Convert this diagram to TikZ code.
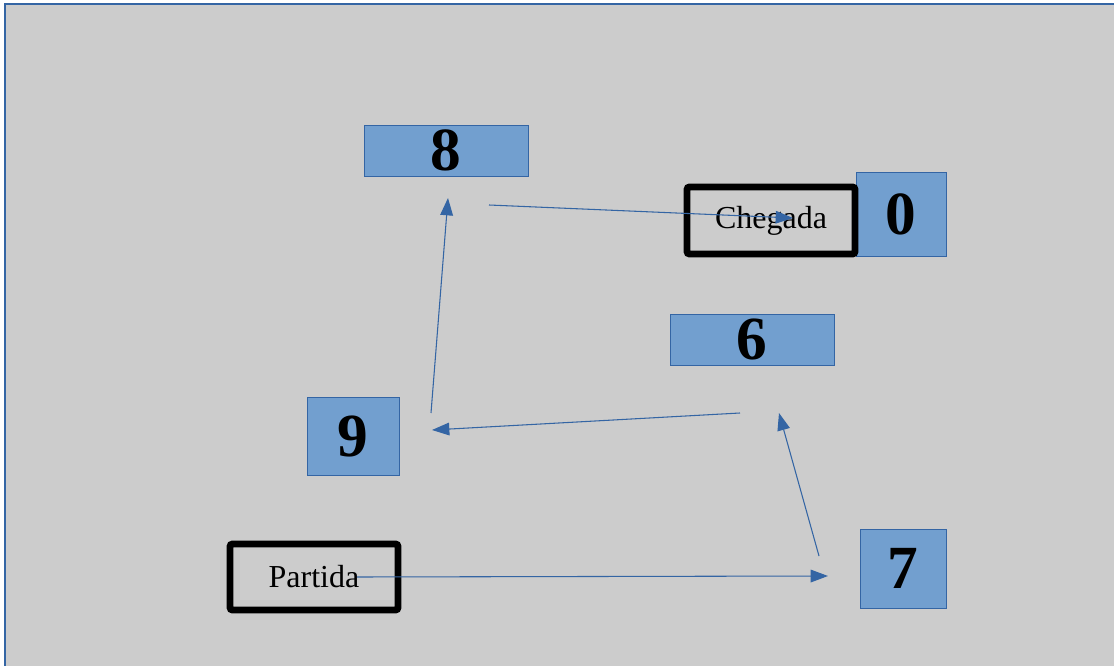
\documentclass[tikz,border=0pt]{standalone}
\usepackage{fontspec}
\setmainfont{Liberation Serif}
\usepackage{xcolor}
\usetikzlibrary{arrows.meta,positioning}

\definecolor{boxblue}{HTML}{729FCF}
\definecolor{lineblue}{HTML}{3465A4}
\definecolor{sheet}{HTML}{CCCCCC}

\begin{document}
\begin{tikzpicture}[x=0.75pt,y=-0.75pt,
    numbox/.style={draw=lineblue,fill=boxblue,line width=0.6pt,inner sep=0pt,
        font=\fontsize{46}{50}\selectfont\bfseries},
    endbox/.style={draw=black,line width=5.2pt,rounded corners=2pt,inner sep=0pt,
        minimum width=126pt,font=\fontsize{24}{28}\selectfont},
    move/.style={draw=lineblue,line width=0.8pt,-{Triangle[length=13pt,width=9.5pt]}}]
    \clip (0,0) rectangle (1114,666);
    % sheet
    \draw[fill=sheet,draw=lineblue,line width=1.2pt] (5,4) rectangle (1130,680);

    % the boxes
    \node (n8) [numbox,minimum width=123pt,minimum height=38.25pt] at (446,150.5) {8};
    \node (n0) [numbox,minimum width=67.5pt,minimum height=63pt] at (901,214) {0};
    \node (n6) [numbox,minimum width=123pt,minimum height=38.25pt] at (752,339.5) {6};
    \node (n9) [numbox,minimum width=69pt,minimum height=58.5pt] at (353,436) {9};
    \node (n7) [numbox,minimum width=64.5pt,minimum height=59.25pt] at (903,568.5) {7};
    \node (chegada) [endbox,minimum height=50.25pt] at (771,220.5) {Chegada};
    \node (partida) [endbox,minimum height=49.5pt] at (314,577) {Partida};

    % free ends of the moves
    \coordinate (p1) at (357,577);
    \coordinate (p2) at (828,576);
    \coordinate (p3) at (819,556);
    \coordinate (p4) at (779,413);
    \coordinate (p5) at (740,413);
    \coordinate (p6) at (432,430);
    \coordinate (p7) at (431,413);
    \coordinate (p8) at (448,198);
    \coordinate (p9) at (489,205);
    \coordinate (p10) at (793,218);

    \draw[move] (p1) -- (p2);
    \draw[move] (p3) -- (p4);
    \draw[move] (p5) -- (p6);
    \draw[move] (p7) -- (p8);
    \draw[move] (p9) -- (p10);
\end{tikzpicture}
\end{document}
